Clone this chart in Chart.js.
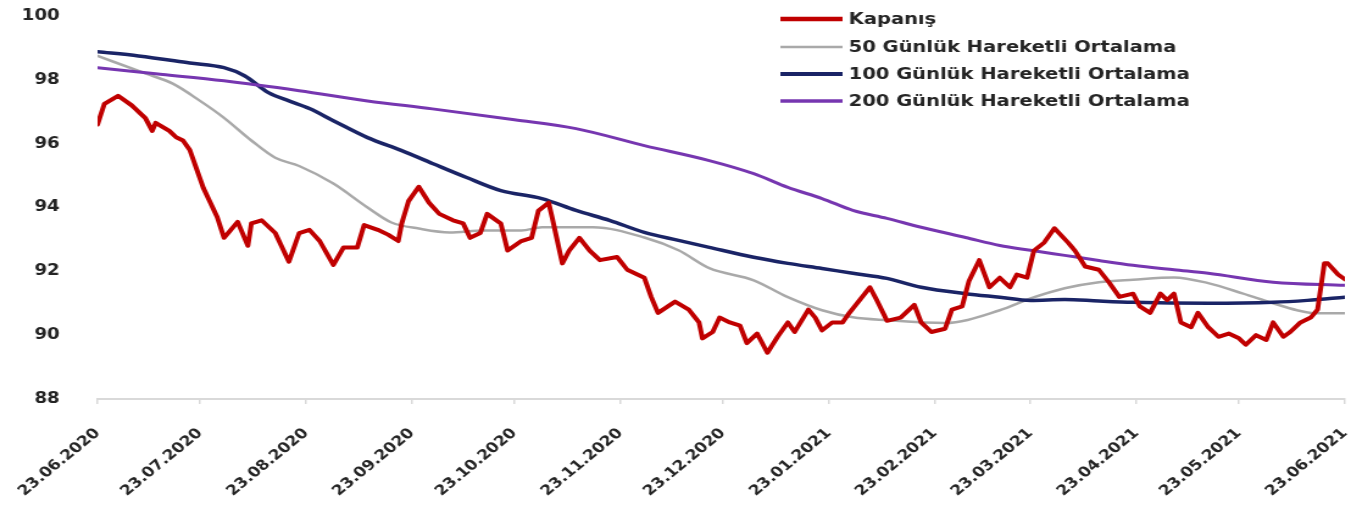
<!DOCTYPE html>
<html lang="tr">
<head>
<meta charset="utf-8">
<title>Kapanış ve Hareketli Ortalamalar</title>
<script src="https://cdn.jsdelivr.net/npm/chart.js@4.4.1/dist/chart.umd.min.js"></script>
<style>
  html, body { margin: 0; padding: 0; background: #ffffff; }
  #wrap {
    width: 1117px;
    height: 506px;
    transform: scaleX(1.2193);
    transform-origin: 0 0;
  }
  canvas { display: block; }
</style>
</head>
<body>
<div id="wrap"><canvas id="chart" width="1117" height="506"></canvas></div>
<script>
// Days counted from 23.06.2020
const tickDays = [0, 30, 61, 92, 122, 153, 183, 214, 245, 273, 304, 334, 365];
const tickLabels = ['23.06.2020', '23.07.2020', '23.08.2020', '23.09.2020', '23.10.2020', '23.11.2020',
  '23.12.2020', '23.01.2021', '23.02.2021', '23.03.2021', '23.04.2021', '23.05.2021', '23.06.2021'];

const closeDays = [0, 2, 6, 10, 14, 16, 17, 21, 23, 25, 27, 31, 35, 37, 41, 44, 45, 48, 52, 56,
  59, 62, 65, 69, 72, 76, 78, 82, 85, 88, 89, 91, 94, 97, 100, 104, 107, 109, 112, 114,
  118, 120, 124, 127, 129, 132, 133, 136, 138, 141, 144, 147, 152, 155, 160, 162, 164, 169, 173, 176,
  177, 180, 182, 185, 188, 190, 193, 196, 199, 202, 204, 208, 210, 212, 215, 218, 220, 223, 226, 228,
  231, 235, 239, 241, 244, 248, 250, 253, 255, 258, 261, 264, 267, 269, 272, 274, 277, 280, 284, 286,
  289, 293, 296, 299, 303, 305, 308, 311, 313, 315, 317, 320, 322, 325, 328, 331, 334, 336, 339, 342,
  344, 347, 349, 352, 355, 357, 359, 360, 363, 365];
const closeValues = [96.6, 97.25, 97.5, 97.2, 96.8, 96.4, 96.65, 96.4, 96.2, 96.1, 95.8, 94.6, 93.7, 93.05, 93.55, 92.8, 93.5, 93.6, 93.2, 92.3,
  93.2, 93.3, 92.95, 92.2, 92.75, 92.75, 93.45, 93.3, 93.15, 92.95, 93.5, 94.2, 94.65, 94.15, 93.8, 93.6, 93.5, 93.05, 93.2, 93.8,
  93.5, 92.65, 92.95, 93.05, 93.9, 94.15, 93.7, 92.25, 92.65, 93.05, 92.65, 92.35, 92.45, 92.05, 91.8, 91.2, 90.7, 91.05, 90.8, 90.4,
  89.9, 90.1, 90.55, 90.4, 90.3, 89.75, 90.05, 89.45, 89.95, 90.4, 90.1, 90.8, 90.55, 90.15, 90.4, 90.4, 90.7, 91.1, 91.5, 91.1,
  90.45, 90.55, 90.95, 90.4, 90.1, 90.2, 90.8, 90.9, 91.7, 92.35, 91.5, 91.8, 91.5, 91.9, 91.8, 92.65, 92.9, 93.35, 92.9, 92.65,
  92.15, 92.05, 91.65, 91.2, 91.3, 90.9, 90.7, 91.3, 91.1, 91.3, 90.4, 90.25, 90.7, 90.25, 89.95, 90.05, 89.9, 89.7, 90.0, 89.85,
  90.4, 89.95, 90.1, 90.4, 90.55, 90.8, 92.25, 92.25, 91.9, 91.75];

const ma50Days = [0, 14, 22, 30, 37, 45, 52, 59, 69, 79, 86, 94, 103, 113, 124, 130, 145, 160, 170, 179,
  192, 202, 212, 221, 231, 248, 264, 273, 283, 293, 303, 315, 325, 335, 344, 351, 356, 365];
const ma50Values = [98.75, 98.2, 97.88, 97.34, 96.81, 96.1, 95.56, 95.3, 94.75, 94.0, 93.53, 93.34, 93.22, 93.28, 93.28, 93.38, 93.38, 93.06, 92.66, 92.1,
  91.72, 91.19, 90.78, 90.56, 90.47, 90.38, 90.78, 91.15, 91.47, 91.66, 91.74, 91.81, 91.63, 91.31, 91.0, 90.78, 90.69, 90.69];

const ma100Days = [0, 12, 27, 37, 43, 50, 56, 62, 69, 79, 89, 98, 108, 118, 130, 140, 150, 160, 170, 179,
  192, 202, 212, 221, 231, 241, 254, 264, 273, 283, 293, 303, 325, 344, 354, 365];
const ma100Values = [98.88, 98.75, 98.53, 98.38, 98.13, 97.6, 97.34, 97.1, 96.72, 96.19, 95.78, 95.38, 94.94, 94.53, 94.28, 93.91, 93.59, 93.22, 92.97, 92.75,
  92.44, 92.25, 92.09, 91.94, 91.78, 91.5, 91.3, 91.19, 91.09, 91.12, 91.07, 91.03, 91.0, 91.03, 91.09, 91.19];

const ma200Days = [0, 17, 37, 59, 79, 98, 122, 140, 160, 179, 192, 202, 212, 221, 231, 241, 254, 264, 273, 283,
  293, 303, 315, 325, 344, 365];
const ma200Values = [98.38, 98.19, 97.97, 97.66, 97.34, 97.09, 96.75, 96.47, 95.94, 95.47, 95.06, 94.63, 94.28, 93.91, 93.66, 93.38, 93.06, 92.81, 92.66, 92.5,
  92.34, 92.19, 92.05, 91.94, 91.66, 91.56];

const seriesNames = ['Kapanış', '50 Günlük Hareketli Ortalama', '100 Günlük Hareketli Ortalama', '200 Günlük Hareketli Ortalama'];

const toPoints = (days, values) => days.map((d, i) => ({ x: d, y: values[i] }));

const FONT = "'DejaVu Sans', Verdana, sans-serif";
const TEXT = '#242424';

// Legend drawn inside the plot, top right
const innerLegend = {
  id: 'innerLegend',
  afterDraw(chart) {
    const ctx = chart.ctx;
    const x1 = 640, x2 = 691, tx = 696;
    const rows = [19, 47, 74, 101];
    ctx.save();
    ctx.font = 'bold 16px ' + FONT;
    ctx.textBaseline = 'middle';
    ctx.textAlign = 'left';
    chart.data.datasets.forEach((ds, i) => {
      const y = rows[i];
      ctx.strokeStyle = ds.borderColor;
      ctx.lineWidth = ds.legendWidth;
      ctx.lineCap = 'butt';
      ctx.beginPath();
      ctx.moveTo(x1, y);
      ctx.lineTo(x2, y);
      ctx.stroke();
      ctx.fillStyle = TEXT;
      ctx.fillText(ds.label, tx, y + 1);
    });
    ctx.restore();
  }
};

new Chart(document.getElementById('chart'), {
  type: 'line',
  data: {
    datasets: [
      { label: seriesNames[0], data: toPoints(closeDays, closeValues), borderColor: '#c00000', borderWidth: 4, legendWidth: 4.5, tension: 0, order: 0 },
      { label: seriesNames[1], data: toPoints(ma50Days, ma50Values), borderColor: '#a9a9a9', borderWidth: 2.5, legendWidth: 2.5, cubicInterpolationMode: 'monotone', order: 3 },
      { label: seriesNames[2], data: toPoints(ma100Days, ma100Values), borderColor: '#1a2466', borderWidth: 3.5, legendWidth: 4, cubicInterpolationMode: 'monotone', order: 2 },
      { label: seriesNames[3], data: toPoints(ma200Days, ma200Values), borderColor: '#7636b0', borderWidth: 3, legendWidth: 3.5, cubicInterpolationMode: 'monotone', order: 1 }
    ]
  },
  options: {
    responsive: false,
    animation: false,
    devicePixelRatio: 1,
    layout: { padding: { top: 16, right: 14, bottom: 0, left: 0 } },
    elements: { point: { radius: 0, hoverRadius: 0 }, line: { borderJoinStyle: 'round', borderCapStyle: 'round' } },
    plugins: { legend: { display: false }, tooltip: { enabled: false } },
    scales: {
      x: {
        type: 'linear',
        min: 0,
        max: 365,
        afterBuildTicks: (scale) => { scale.ticks = tickDays.map(v => ({ value: v })); },
        afterFit: (scale) => { scale.height = 107; scale.paddingLeft = 0; scale.paddingRight = 0; },
        border: { display: true, color: '#d9d9d9', width: 2 },
        grid: { display: true, drawOnChartArea: false, drawTicks: true, tickLength: 5, color: '#d9d9d9', lineWidth: 1.5 },
        ticks: {
          autoSkip: false,
          minRotation: 45,
          maxRotation: 45,
          padding: 21,
          color: TEXT,
          font: { family: FONT, size: 14, weight: 'bold' },
          callback: (value, index) => tickLabels[index]
        }
      },
      y: {
        min: 88,
        max: 100,
        afterFit: (scale) => { scale.width = 80; scale.paddingTop = 0; scale.paddingBottom = 0; },
        border: { display: false },
        grid: { display: false },
        ticks: {
          stepSize: 2,
          padding: 23,
          color: TEXT,
          font: { family: FONT, size: 15, weight: 'bold' }
        }
      }
    }
  },
  plugins: [innerLegend]
});
</script>
</body>
</html>
